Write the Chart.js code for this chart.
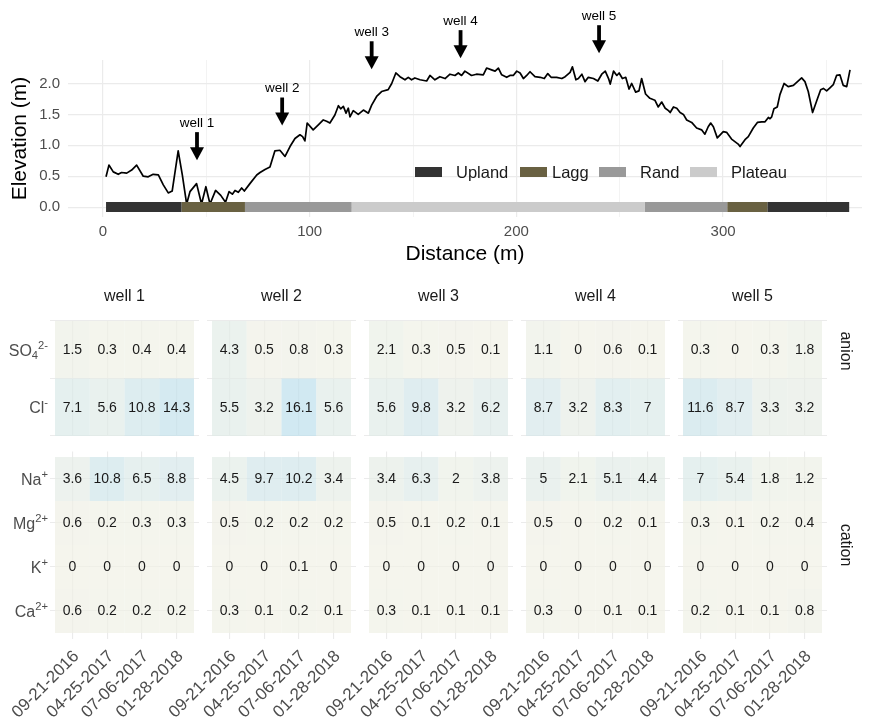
<!DOCTYPE html>
<html>
<head>
<meta charset="utf-8">
<script src="https://cdn.jsdelivr.net/npm/chart.js@4.4.1/dist/chart.umd.min.js"></script>
<style>
  html, body { margin: 0; padding: 0; background: #ffffff; }
  #wrap { position: relative; width: 876px; height: 723px; overflow: hidden; background: #ffffff; }
  #wrap canvas { position: absolute; left: 0; }
</style>
</head>
<body>
<div id="wrap"></div>
<script>
// ---------- elevation transect ----------
const distance = [
  1.5, 2.9, 5.0, 7.4, 9.0, 11.5, 13.9, 16.3, 19.5, 21.9, 24.3, 26.8, 29.2, 31.6, 33.5, 36.4, 38.4,
  40.5, 42.1, 45.3, 47.7, 49.8, 51.8, 54.5, 57.0, 59.3, 61.0, 62.6, 63.9, 65.5, 67.1, 68.4, 71.1,
  74.4, 76.0, 78.4, 80.8, 83.2, 85.6, 88.1, 90.5, 92.9, 95.3, 96.6, 97.7, 98.8, 101.7, 104.2, 106.6,
  108.2, 109.8, 112.2, 113.9, 115.0, 116.3, 117.6, 118.7, 119.5, 121.1, 123.5, 126.0, 128.4, 130.0,
  132.4, 134.8, 138.0, 139.7, 141.7, 143.7, 146.1, 147.7, 149.3, 150.9, 153.4, 156.6, 158.2, 160.6,
  163.0, 165.5, 167.9, 170.3, 171.9, 173.5, 175.1, 178.3, 180.7, 184.0, 185.6, 188.0, 189.7, 191.3,
  192.9, 195.3, 196.9, 198.5, 200.2, 201.8, 203.4, 205.0, 206.6, 209.0, 211.5, 213.5, 215.2, 216.8,
  219.5, 222.0, 223.6, 226.0, 227.1, 228.8, 230.0, 231.7, 233.2, 234.8, 237.3, 239.4, 241.3, 243.0,
  244.6, 245.4, 247.0, 248.6, 249.7, 251.3, 252.9, 254.5, 255.8, 257.7, 259.3, 260.6, 262.5, 264.6,
  267.0, 268.6, 270.3, 272.0, 273.6, 274.4, 276.0, 277.6, 279.2, 280.8, 282.4, 284.8, 287.2, 289.6,
  291.2, 292.8, 294.0, 295.3, 297.2, 300.1, 301.7, 304.1, 307.3, 308.2, 310.6, 312.2, 314.6, 316.6,
  318.7, 320.3, 321.9, 322.7, 323.5, 324.6, 326.2, 327.5, 329.5, 331.5, 334.0, 338.0, 339.6, 341.2,
  343.3, 345.3, 347.2, 348.5, 350.1, 351.7, 353.3, 354.9, 356.5, 358.1, 359.8, 361.4
];
const elevation = [
  0.49, 0.68, 0.57, 0.53, 0.56, 0.55, 0.60, 0.68, 0.50, 0.49, 0.53, 0.52, 0.36, 0.23, 0.26, 0.91, 0.52,
  0.05, 0.25, 0.38, 0.05, 0.33, 0.05, 0.27, 0.19, 0.08, 0.25, 0.21, 0.27, 0.24, 0.31, 0.26, 0.38,
  0.52, 0.56, 0.61, 0.65, 0.91, 0.92, 0.82, 0.98, 1.11, 1.17, 1.14, 1.07, 1.36, 1.25, 1.33, 1.41,
  1.39, 1.36, 1.49, 1.64, 1.59, 1.63, 1.52, 1.60, 1.46, 1.56, 1.50, 1.57, 1.52, 1.65,
  1.79, 1.87, 1.90, 2.00, 2.17, 2.11, 2.06, 2.10, 2.06, 2.09, 2.06, 2.04, 2.13, 2.06,
  2.11, 2.08, 2.15, 2.13, 2.17, 2.13, 2.20, 2.13, 2.15, 2.14, 2.25, 2.22, 2.20, 2.25,
  2.14, 2.10, 2.13, 2.13, 2.20, 2.17, 2.08, 2.13, 2.19, 2.11, 2.10, 2.08, 2.16, 2.10,
  2.10, 2.08, 2.11, 2.18, 2.27, 2.06, 2.08, 2.15, 2.03, 2.10, 2.08, 2.04, 2.15, 2.20,
  2.08, 1.99, 2.20, 2.13, 2.17, 2.08, 2.10, 1.91, 2.00, 1.86, 1.88, 2.08, 1.83, 1.76,
  1.73, 1.62, 1.70, 1.60, 1.56, 1.53, 1.62, 1.60, 1.53, 1.50, 1.41, 1.37, 1.28, 1.25,
  1.18, 1.30, 1.36, 1.30, 1.12, 1.22, 1.21, 1.10, 1.02, 0.98, 1.09, 1.14, 1.28, 1.37,
  1.38, 1.38, 1.45, 1.43, 1.46, 1.59, 1.62, 1.82, 2.00, 1.95, 1.97, 2.09, 2.03, 1.87,
  1.53, 1.72, 1.90, 1.92, 1.88, 1.93, 1.98, 2.13, 2.14, 1.97, 1.95, 2.22
];

// landform zones along the transect
const zoneNames = ['Upland', 'Lagg', 'Rand', 'Plateau'];
const segStart = [1.5, 38.0, 68.7, 120.3, 262.2, 302.0, 321.4];
const segEnd   = [38.0, 68.7, 120.3, 262.2, 302.0, 321.4, 361.0];
const segZone  = ['Upland', 'Lagg', 'Rand', 'Plateau', 'Rand', 'Lagg', 'Upland'];

// sampling wells: position along transect and elevation of the arrow tip
const wells = ['well 1', 'well 2', 'well 3', 'well 4', 'well 5'];
const wellDist = [45.5, 86.7, 130.0, 173.0, 240.0];
const wellTip  = [0.76, 1.32, 2.23, 2.41, 2.49];

// ---------- water chemistry ----------
const dates = ['09-21-2016', '04-25-2017', '07-06-2017', '01-28-2018'];
const anionLabels  = ['SO_4^2-', 'Cl^-'];
const cationLabels = ['Na^+', 'Mg^2+', 'K^+', 'Ca^2+'];
// one row per well, one value per sampling date
const so4 = [[1.5, 0.3, 0.4, 0.4], [4.3, 0.5, 0.8, 0.3], [2.1, 0.3, 0.5, 0.1], [1.1, 0, 0.6, 0.1], [0.3, 0, 0.3, 1.8]];
const cl  = [[7.1, 5.6, 10.8, 14.3], [5.5, 3.2, 16.1, 5.6], [5.6, 9.8, 3.2, 6.2], [8.7, 3.2, 8.3, 7], [11.6, 8.7, 3.3, 3.2]];
const na  = [[3.6, 10.8, 6.5, 8.8], [4.5, 9.7, 10.2, 3.4], [3.4, 6.3, 2, 3.8], [5, 2.1, 5.1, 4.4], [7, 5.4, 1.8, 1.2]];
const mg  = [[0.6, 0.2, 0.3, 0.3], [0.5, 0.2, 0.2, 0.2], [0.5, 0.1, 0.2, 0.1], [0.5, 0, 0.2, 0.1], [0.3, 0.1, 0.2, 0.4]];
const kk  = [[0, 0, 0, 0], [0, 0, 0.1, 0], [0, 0, 0, 0], [0, 0, 0, 0], [0, 0, 0, 0]];
const ca  = [[0.6, 0.2, 0.2, 0.2], [0.3, 0.1, 0.2, 0.1], [0.3, 0.1, 0.1, 0.1], [0.3, 0, 0.1, 0.1], [0.2, 0.1, 0.1, 0.8]];

// ---------- styling ----------
const FONT = "'Liberation Sans', Arial, Helvetica, sans-serif";
Chart.defaults.font.family = FONT;
const GRID = '#ebebeb';
const AXIS_TEXT = '#4d4d4d';
const zoneColor = { Upland: '#333333', Lagg: '#696142', Rand: '#999999', Plateau: '#cbcbcb' };
const W = 876;

function makeCanvas(top, height) {
  const c = document.createElement('canvas');
  c.width = W; c.height = height;
  c.style.top = top + 'px';
  document.getElementById('wrap').appendChild(c);
  return c;
}

// ---------- top panel: elevation profile ----------
const zoneLegend = {
  id: 'zoneLegend',
  afterDraw(chart) {
    const ctx = chart.ctx;
    const boxX = [415, 520, 599, 690];
    const textX = [456, 552, 640, 731];
    const yMid = 172;
    ctx.save();
    ctx.font = '16.5px ' + FONT;
    ctx.textAlign = 'left';
    ctx.textBaseline = 'middle';
    zoneNames.forEach((z, i) => {
      ctx.fillStyle = zoneColor[z];
      ctx.fillRect(boxX[i], yMid - 5, 27, 10);
      ctx.fillStyle = '#1a1a1a';
      ctx.fillText(z, textX[i], yMid + 1);
    });
    ctx.restore();
  }
};

const wellArrows = {
  id: 'wellArrows',
  afterDatasetsDraw(chart) {
    const { ctx, scales: { x, y } } = chart;
    ctx.save();
    wellDist.forEach((d, i) => {
      const px = x.getPixelForValue(d);
      const tip = y.getPixelForValue(wellTip[i]);
      const top = tip - 28;
      ctx.strokeStyle = '#000';
      ctx.lineWidth = 3.8;
      ctx.beginPath(); ctx.moveTo(px, top); ctx.lineTo(px, tip - 10); ctx.stroke();
      ctx.fillStyle = '#000';
      ctx.beginPath();
      ctx.moveTo(px - 7, tip - 13); ctx.lineTo(px + 7, tip - 13); ctx.lineTo(px, tip);
      ctx.closePath(); ctx.fill();
      ctx.font = '13.5px ' + FONT;
      ctx.textAlign = 'center';
      ctx.textBaseline = 'middle';
      ctx.fillText(wells[i], px, top - 9);
    });
    ctx.restore();
  }
};

const profilePoints = distance.map((d, i) => ({ x: d, y: elevation[i] }));
const zoneDatasets = segZone.map((z, i) => ({
  type: 'line',
  label: z,
  data: [{ x: segStart[i], y: 0 }, { x: segEnd[i], y: 0 }],
  borderColor: zoneColor[z],
  borderWidth: 10,
  borderCapStyle: 'butt',
  pointRadius: 0,
  order: 0
}));

new Chart(makeCanvas(0, 265), {
  type: 'line',
  data: {
    datasets: [
      ...zoneDatasets,
      { label: 'Elevation', data: profilePoints, borderColor: '#000000', borderWidth: 1.7,
        pointRadius: 0, tension: 0, order: 1, borderJoinStyle: 'round' }
    ]
  },
  options: {
    responsive: false,
    animation: false,
    events: [],
    layout: { padding: { top: 60, right: 14, left: 0, bottom: 0 } },
    plugins: { legend: { display: false }, tooltip: { enabled: false } },
    scales: {
      x: {
        type: 'linear', min: -16.9, max: 367.2,
        afterFit: s => { s.height = 48; },
        border: { display: false },
        grid: { color: GRID, lineWidth: c => (c.tick && c.tick.value % 100 === 0 ? 1.2 : 0.6), drawTicks: false },
        ticks: { stepSize: 50, includeBounds: false, autoSkip: false, maxRotation: 0, padding: 6,
                 color: AXIS_TEXT, font: { size: 15 },
                 callback: v => (v % 100 === 0 ? String(v) : '') },
        title: { display: true, text: 'Distance (m)', color: '#000000',
                 font: { size: 21, lineHeight: 1 }, padding: { top: 0, bottom: 0 } }
      },
      y: {
        type: 'linear', min: -0.16, max: 2.38,
        afterFit: s => { s.width = 68; },
        border: { display: false },
        grid: { color: GRID, lineWidth: c => (c.tick && Math.round(c.tick.value * 4) % 2 === 0 ? 1.2 : 0.6), drawTicks: false },
        ticks: { stepSize: 0.25, includeBounds: false, padding: 8, color: AXIS_TEXT, font: { size: 15 },
                 callback: v => (Math.round(v * 4) % 2 === 0 ? v.toFixed(1) : '') },
        title: { display: true, text: 'Elevation (m)', color: '#000000',
                 font: { size: 21, lineHeight: 1.2 }, padding: { top: 8, bottom: 0 } }
      }
    }
  },
  plugins: [wellArrows, zoneLegend]
});

// ---------- bottom panels: ion heat map ----------
const lowFill = [241, 241, 229];
const highFill = [189, 223, 236];
const fillAlpha = 0.7;
const fillMax = 16.1;
function fillFor(v) {
  const t = Math.max(0, Math.min(1, v / fillMax));
  const c = lowFill.map((l, i) => Math.round(l + (highFill[i] - l) * t));
  return `rgba(${c[0]},${c[1]},${c[2]},${fillAlpha})`;
}

function drawChem(ctx, label, xRight, yMid, size) {
  // "_" starts a subscript run, "^" starts a superscript run
  const parts = [];
  let mode = 'n', buf = '';
  for (const ch of label) {
    if (ch === '_' || ch === '^') {
      if (buf) parts.push({ t: buf, m: mode });
      buf = '';
      mode = ch === '_' ? 'sub' : 'sup';
    } else buf += ch;
  }
  if (buf) parts.push({ t: buf, m: mode });
  const small = size * 0.7;
  const fontFor = m => (m === 'n' ? size : small) + 'px ' + FONT;
  let w = 0;
  parts.forEach(p => { ctx.font = fontFor(p.m); p.w = ctx.measureText(p.t).width; w += p.w; });
  let x = xRight - w;
  const base = yMid + size * 0.36;
  ctx.textAlign = 'left';
  ctx.textBaseline = 'alphabetic';
  parts.forEach(p => {
    ctx.font = fontFor(p.m);
    const dy = p.m === 'sub' ? size * 0.22 : (p.m === 'sup' ? -size * 0.42 : 0);
    ctx.fillText(p.t, x, base + dy);
    x += p.w;
  });
}

const cellText = {
  id: 'cellText',
  afterDatasetsDraw(chart) {
    const ctx = chart.ctx;
    const meta = chart.getDatasetMeta(0);
    const data = chart.data.datasets[0].data;
    ctx.save();
    ctx.font = '14px ' + FONT;
    ctx.fillStyle = '#1a1a1a';
    ctx.textAlign = 'center';
    ctx.textBaseline = 'middle';
    meta.data.forEach((el, i) => {
      const p = el.getCenterPoint();
      ctx.fillText(String(data[i].v), p.x, p.y + 0.5);
    });
    ctx.restore();
  }
};

const facetText = {
  id: 'facetText',
  afterDraw(chart, args, opts) {
    const ctx = chart.ctx;
    const area = chart.chartArea;
    ctx.save();
    ctx.fillStyle = AXIS_TEXT;
    if (opts.rowLabels) {
      const y = chart.scales.y;
      opts.rowLabels.forEach((lab, r) => drawChem(ctx, lab, area.left - 2, y.getPixelForValue(r + 1), 16));
    }
    ctx.fillStyle = '#1a1a1a';
    ctx.font = '16px ' + FONT;
    ctx.textAlign = 'center';
    ctx.textBaseline = 'middle';
    if (opts.strip) ctx.fillText(opts.strip, (area.left + area.right) / 2, area.top - 24);
    if (opts.side) {
      ctx.translate(area.right + 18, opts.sideY(area));
      ctx.rotate(Math.PI / 2);
      ctx.fillText(opts.side, 0, 0);
    }
    ctx.restore();
  }
};

const tileLeft = [55, 212, 369, 526, 683];
const tileWidth = 139;
const padX = 5;

function heatPanel(cfg) {
  const { well, rows, labels, top, height, padTop, axisH, yLo, yHi, bottomRow, side, sideY, strip } = cfg;
  const cells = [];
  rows.forEach((series, r) => {
    series[well].forEach((v, c) => cells.push({ x: c + 1, y: [r + 0.5, r + 1.5], v }));
  });
  const left = tileLeft[well] - padX;
  const right = tileLeft[well] + tileWidth + padX;
  const ex = padX / (tileWidth / 4);
  new Chart(makeCanvas(top, height), {
    type: 'bar',
    data: {
      datasets: [{
        data: cells,
        backgroundColor: cells.map(c => fillFor(c.v)),
        borderWidth: 0,
        inflateAmount: 0,
        barPercentage: 1,
        categoryPercentage: 1
      }]
    },
    options: {
      responsive: false,
      animation: false,
      events: [],
      layout: { padding: { left: left, right: W - right, top: padTop, bottom: 0 } },
      plugins: {
        legend: { display: false },
        tooltip: { enabled: false },
        facetText: {
          rowLabels: well === 0 ? labels : null,
          strip: strip ? wells[well] : null,
          side: well === 4 ? side : null,
          sideY: sideY
        }
      },
      scales: {
        x: {
          type: 'linear', offset: false, min: 0.5 - ex, max: 4.5 + ex,
          // rotated date labels may hang past the panel edge without shrinking it
          afterFit: s => { s.height = axisH; s.paddingLeft = 0; s.paddingRight = 0; },
          border: { display: false },
          grid: { offset: false, color: GRID, lineWidth: 1.1, drawTicks: false },
          ticks: {
            stepSize: 1, includeBounds: false, autoSkip: false, display: bottomRow,
            minRotation: 45, maxRotation: 45, padding: 8, labelOffset: 4,
            color: AXIS_TEXT, font: { size: 17 },
            callback: v => dates[v - 1]
          }
        },
        y: {
          type: 'linear', reverse: true, min: yLo, max: yHi,
          afterFit: s => { s.width = 0; },
          border: { display: false },
          grid: { color: GRID, lineWidth: 1.1, drawTicks: false },
          ticks: { stepSize: 1, includeBounds: false, display: false }
        }
      }
    },
    plugins: [cellText, facetText]
  });
}

for (let w = 0; w < 5; w++) {
  heatPanel({
    well: w, rows: [so4, cl], labels: anionLabels,
    top: 280, height: 156, padTop: 41, axisH: 0,
    yLo: 0.5, yHi: 2.5, bottomRow: false, strip: true,
    side: 'anion', sideY: area => area.top + 30
  });
  heatPanel({
    well: w, rows: [na, mg, kk, ca], labels: cationLabels,
    top: 445, height: 278, padTop: 6.5, axisH: 84.5,
    yLo: 0.5 - 0.125, yHi: 4.5 + 0.125, bottomRow: true, strip: false,
    side: 'cation', sideY: area => (area.top + area.bottom) / 2
  });
}
</script>
</body>
</html>
